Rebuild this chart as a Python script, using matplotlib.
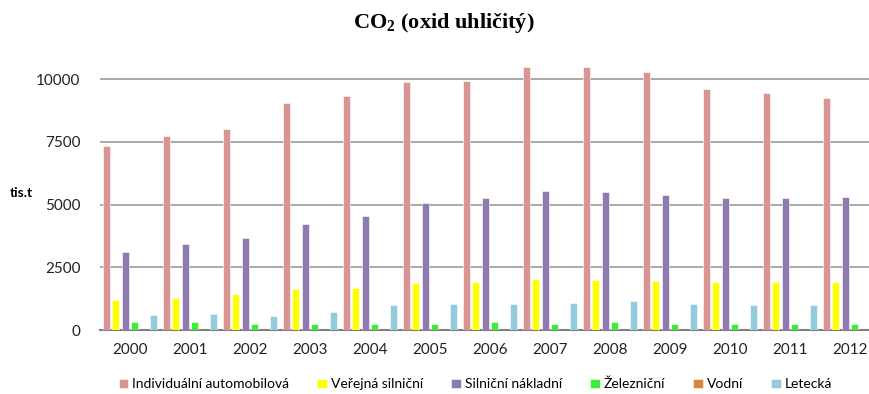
import numpy as np
import matplotlib
matplotlib.use("Agg")
import matplotlib.pyplot as plt

# data (tis. t)
years = ["2000", "2001", "2002", "2003", "2004", "2005", "2006",
         "2007", "2008", "2009", "2010", "2011", "2012"]
individualni = [7340, 7740, 8030, 9040, 9330, 9870, 9920, 10500, 10500, 10290, 9610, 9440, 9240]
verejna = [1200, 1280, 1440, 1620, 1680, 1860, 1920, 2050, 2000, 1960, 1920, 1920, 1920]
nakladni = [3120, 3420, 3660, 4240, 4550, 5070, 5270, 5550, 5510, 5400, 5270, 5270, 5320]
zeleznicni = [310, 310, 250, 250, 250, 250, 310, 250, 310, 250, 250, 250, 250]
vodni = [0, 0, 0, 0, 0, 0, 0, 0, 0, 0, 0, 0, 0]
letecka = [600, 640, 550, 730, 980, 1040, 1040, 1080, 1140, 1040, 980, 980, 900]

series = [
    ("Individuální automobilová", individualni, "#D99594"),
    ("Veřejná silniční", verejna, "#FFFF00"),
    ("Silniční nákladní", nakladni, "#8F7AB0"),
    ("Železniční", zeleznicni, "#3DEB3D"),
    ("Vodní", vodni, "#DD853C"),
    ("Letecká", letecka, "#93CDDD"),
]

plt.rcParams['font.family'] = ['Lato', 'DejaVu Sans']

fig = plt.figure(figsize=(8.69, 3.94), dpi=100)
# plot area runs past the right edge, like in the original (last group is cut)
ax = fig.add_axes([0.115, 0.1624, 0.8977, 0.6876])

x = np.arange(len(years))
slot = 0.157
width = 0.118
handles = []
for i, (name, vals, col) in enumerate(series):
    off = (i - 2.5) * slot
    b = ax.bar(x + off, vals, width, color=col, edgecolor="white", linewidth=0.4,
               label=name, zorder=3)
    handles.append(b)

ax.set_xlim(-0.5, len(years) - 0.5)
ax.set_ylim(0, 10800)
ax.set_yticks([0, 2500, 5000, 7500, 10000])
ax.set_yticklabels(["0", "2500", "5000", "7500", "10000"])
ax.set_xticks(x)
ax.set_xticklabels(years)
ax.tick_params(length=0, labelsize=11, colors="#222222")
ax.tick_params(axis="x", pad=9)
ax.tick_params(axis="y", pad=14)
ax.yaxis.grid(True, color="#9a9a9a", linewidth=1.2, zorder=0)
ax.set_axisbelow(True)
for s in ["left", "right", "top"]:
    ax.spines[s].set_visible(False)
ax.spines["bottom"].set_color("#808080")
ax.spines["bottom"].set_linewidth(1.5)

fig.text(0.011, 0.51, "tis.t", fontsize=10, fontweight="bold", ha="left", va="center")

fig.text(0.511, 0.942, r"CO$_\mathregular{2}$ (oxid uhličitý)", fontsize=16,
         fontweight="bold", family=["Liberation Serif", "DejaVu Serif"],
         ha="center", va="center")

fig.legend(handles=handles, loc="center", bbox_to_anchor=(0.547, 0.025), ncol=6,
           frameon=False, fontsize=10, handlelength=0.7, handleheight=0.7,
           handletextpad=0.3, columnspacing=2.0, borderaxespad=0)

fig.savefig("out.png", dpi=100)
